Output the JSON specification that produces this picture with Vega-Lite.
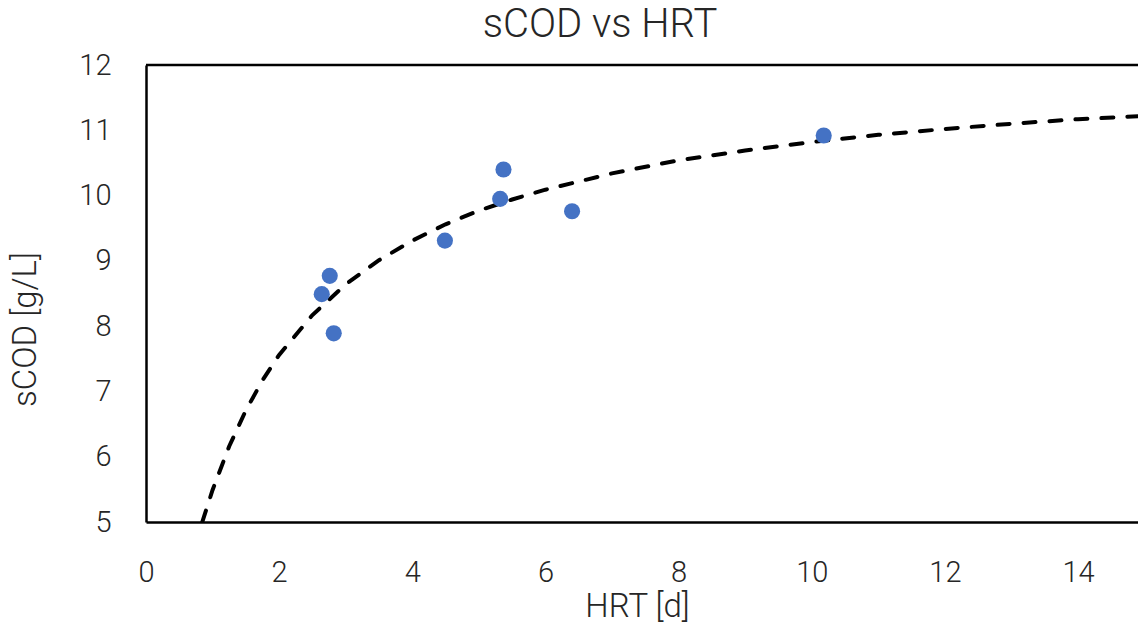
{
  "$schema": "https://vega.github.io/schema/vega-lite/v6.json",
  "autosize": "none",
  "width": 992,
  "height": 457,
  "padding": {"left": 146, "top": 65, "right": 0, "bottom": 104},
  "background": "white",
  "title": {
    "text": "sCOD vs HRT",
    "font": "Roboto",
    "fontWeight": 300,
    "fontSize": 40,
    "color": "#262626",
    "anchor": "middle",
    "frame": "group",
    "dx": -42,
    "offset": 6
  },
  "config": {
    "view": {"stroke": null},
    "axis": {
      "grid": false,
      "ticks": false,
      "labelFlush": false,
      "domainColor": "black",
      "domainWidth": 2.5,
      "labelFont": "Roboto",
      "labelFontWeight": 300,
      "labelFontSize": 29,
      "labelColor": "#262626",
      "titleFont": "Roboto",
      "titleFontWeight": 300,
      "titleFontSize": 33,
      "titleColor": "#262626"
    }
  },
  "datasets": {
    "points": [
      {"hrt": 2.64, "scod": 8.49},
      {"hrt": 2.76, "scod": 8.77},
      {"hrt": 2.82, "scod": 7.89},
      {"hrt": 4.49, "scod": 9.31},
      {"hrt": 5.32, "scod": 9.95},
      {"hrt": 5.37, "scod": 10.40},
      {"hrt": 6.40, "scod": 9.76},
      {"hrt": 10.18, "scod": 10.92}
    ],
    "fit": [
      {"hrt": 0.845, "scod": 5.0},
      {"hrt": 1.0, "scod": 5.49},
      {"hrt": 1.25, "scod": 6.16},
      {"hrt": 1.5, "scod": 6.71},
      {"hrt": 1.75, "scod": 7.17},
      {"hrt": 2.0, "scod": 7.56},
      {"hrt": 2.5, "scod": 8.17},
      {"hrt": 3.0, "scod": 8.64},
      {"hrt": 3.5, "scod": 9.01},
      {"hrt": 4.0, "scod": 9.31},
      {"hrt": 4.5, "scod": 9.56},
      {"hrt": 5.0, "scod": 9.77},
      {"hrt": 5.5, "scod": 9.94},
      {"hrt": 6.0, "scod": 10.09},
      {"hrt": 7.0, "scod": 10.34},
      {"hrt": 8.0, "scod": 10.54},
      {"hrt": 9.0, "scod": 10.69},
      {"hrt": 10.0, "scod": 10.82},
      {"hrt": 11.0, "scod": 10.93},
      {"hrt": 12.0, "scod": 11.02},
      {"hrt": 13.0, "scod": 11.10},
      {"hrt": 14.0, "scod": 11.17},
      {"hrt": 15.0, "scod": 11.22}
    ],
    "frame": [
      {"top": 12}
    ]
  },
  "layer": [
    {
      "data": {"name": "frame"},
      "mark": {"type": "rule", "color": "black", "strokeWidth": 2.5},
      "encoding": {
        "y": {"field": "top", "type": "quantitative", "scale": {"domain": [5, 12]}}
      }
    },
    {
      "data": {"name": "fit"},
      "mark": {"type": "line", "color": "black", "strokeWidth": 4, "strokeDash": [12, 14], "strokeCap": "round", "clip": true},
      "encoding": {
        "x": {"field": "hrt", "type": "quantitative"},
        "y": {"field": "scod", "type": "quantitative"}
      }
    },
    {
      "data": {"name": "points"},
      "mark": {"type": "point", "filled": true, "opacity": 1, "color": "#4472C4", "size": 260},
      "encoding": {
        "x": {
          "field": "hrt", "type": "quantitative",
          "scale": {"domain": [0, 14.901], "nice": false, "zero": false},
          "axis": {"title": "HRT [d]", "values": [0, 2, 4, 6, 8, 10, 12, 14], "format": "d", "labelPadding": 36, "titleX": 491, "titleY": 84, "titleBaseline": "middle", "titleAlign": "center"}
        },
        "y": {
          "field": "scod", "type": "quantitative",
          "scale": {"domain": [5, 12], "nice": false, "zero": false},
          "axis": {"title": "sCOD [g/L]", "values": [5, 6, 7, 8, 9, 10, 11, 12], "format": "d", "labelPadding": 35, "titleX": -121, "titleY": 264, "titleBaseline": "middle", "titleAlign": "center", "titleAngle": -90}
        }
      }
    }
  ]
}
